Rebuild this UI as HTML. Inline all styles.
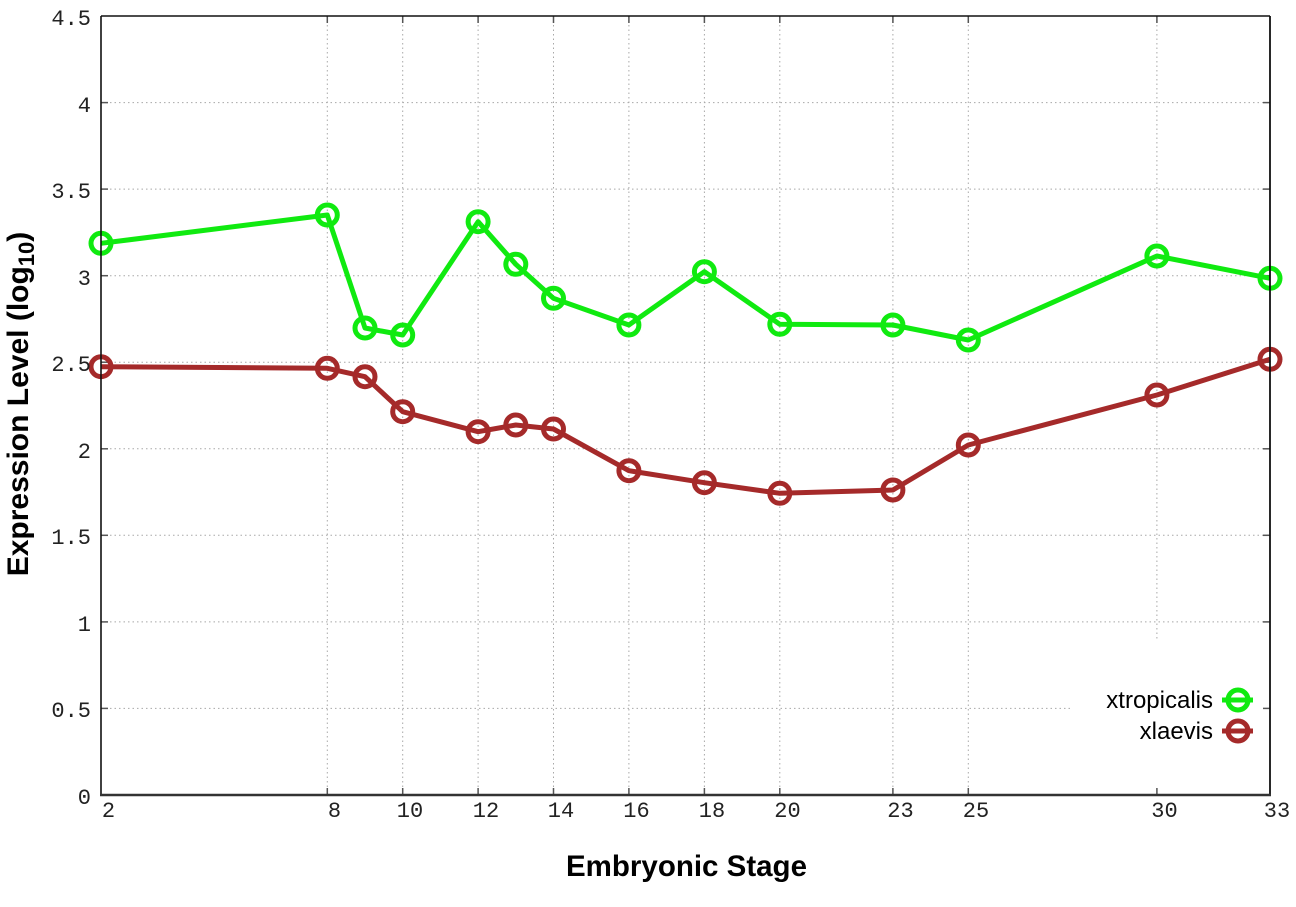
<!DOCTYPE html>
<html>
<head>
<meta charset="utf-8">
<style>
  html,body{margin:0;padding:0;background:#fff;}
  svg{display:block;}
  .tl{font-family:"Liberation Mono",monospace;font-size:22px;fill:#222;}
  .ttl{font-family:"Liberation Sans",sans-serif;font-size:29.5px;font-weight:bold;fill:#000;}
  .lg{font-family:"Liberation Sans",sans-serif;font-size:24px;fill:#000;}
</style>
</head>
<body>
<svg width="1296" height="907" viewBox="0 0 1296 907" xmlns="http://www.w3.org/2000/svg">
  <rect x="0" y="0" width="1296" height="907" fill="#fff"/>

  <!-- horizontal grid -->
  <g stroke="#a8a8a8" stroke-width="1" stroke-dasharray="1.5,3">
    <line x1="101" y1="708.4" x2="1270" y2="708.4"/>
    <line x1="101" y1="621.9" x2="1270" y2="621.9"/>
    <line x1="101" y1="535.3" x2="1270" y2="535.3"/>
    <line x1="101" y1="448.8" x2="1270" y2="448.8"/>
    <line x1="101" y1="362.2" x2="1270" y2="362.2"/>
    <line x1="101" y1="275.7" x2="1270" y2="275.7"/>
    <line x1="101" y1="189.1" x2="1270" y2="189.1"/>
    <line x1="101" y1="102.6" x2="1270" y2="102.6"/>
  </g>
  <!-- vertical grid -->
  <g stroke="#a8a8a8" stroke-width="1" stroke-dasharray="1.5,3">
    <line x1="327.3" y1="16" x2="327.3" y2="795"/>
    <line x1="402.7" y1="16" x2="402.7" y2="795"/>
    <line x1="478.1" y1="16" x2="478.1" y2="795"/>
    <line x1="553.5" y1="16" x2="553.5" y2="795"/>
    <line x1="628.9" y1="16" x2="628.9" y2="795"/>
    <line x1="704.4" y1="16" x2="704.4" y2="795"/>
    <line x1="779.8" y1="16" x2="779.8" y2="795"/>
    <line x1="892.9" y1="16" x2="892.9" y2="795"/>
    <line x1="968.3" y1="16" x2="968.3" y2="795"/>
    <line x1="1156.9" y1="16" x2="1156.9" y2="795"/>
  </g>

  <!-- legend background -->
  <rect x="1070" y="641" width="200" height="154" fill="#fff"/>

  <!-- ticks -->
  <g stroke="#555" stroke-width="1.5">
    <line x1="101" y1="708.4" x2="108" y2="708.4"/><line x1="1270" y1="708.4" x2="1263" y2="708.4"/>
    <line x1="101" y1="621.9" x2="108" y2="621.9"/><line x1="1270" y1="621.9" x2="1263" y2="621.9"/>
    <line x1="101" y1="535.3" x2="108" y2="535.3"/><line x1="1270" y1="535.3" x2="1263" y2="535.3"/>
    <line x1="101" y1="448.8" x2="108" y2="448.8"/><line x1="1270" y1="448.8" x2="1263" y2="448.8"/>
    <line x1="101" y1="362.2" x2="108" y2="362.2"/><line x1="1270" y1="362.2" x2="1263" y2="362.2"/>
    <line x1="101" y1="275.7" x2="108" y2="275.7"/><line x1="1270" y1="275.7" x2="1263" y2="275.7"/>
    <line x1="101" y1="189.1" x2="108" y2="189.1"/><line x1="1270" y1="189.1" x2="1263" y2="189.1"/>
    <line x1="101" y1="102.6" x2="108" y2="102.6"/><line x1="1270" y1="102.6" x2="1263" y2="102.6"/>
    <line x1="327.3" y1="795" x2="327.3" y2="788"/><line x1="327.3" y1="16" x2="327.3" y2="23"/>
    <line x1="402.7" y1="795" x2="402.7" y2="788"/><line x1="402.7" y1="16" x2="402.7" y2="23"/>
    <line x1="478.1" y1="795" x2="478.1" y2="788"/><line x1="478.1" y1="16" x2="478.1" y2="23"/>
    <line x1="553.5" y1="795" x2="553.5" y2="788"/><line x1="553.5" y1="16" x2="553.5" y2="23"/>
    <line x1="628.9" y1="795" x2="628.9" y2="788"/><line x1="628.9" y1="16" x2="628.9" y2="23"/>
    <line x1="704.4" y1="795" x2="704.4" y2="788"/><line x1="704.4" y1="16" x2="704.4" y2="23"/>
    <line x1="779.8" y1="795" x2="779.8" y2="788"/><line x1="779.8" y1="16" x2="779.8" y2="23"/>
    <line x1="892.9" y1="795" x2="892.9" y2="788"/><line x1="892.9" y1="16" x2="892.9" y2="23"/>
    <line x1="968.3" y1="795" x2="968.3" y2="788"/><line x1="968.3" y1="16" x2="968.3" y2="23"/>
    <line x1="1156.9" y1="795" x2="1156.9" y2="788"/><line x1="1156.9" y1="16" x2="1156.9" y2="23"/>
  </g>

  <!-- xtropicalis -->
  <g stroke="#10ea10" stroke-width="5" fill="none" stroke-linejoin="round">
    <polyline points="101,243.3 327.3,215 365,328 402.7,335 478.1,221.7 515.8,264.3 553.5,298.3 628.9,325 704.4,271.7 779.8,324.3 892.9,325 968.3,340 1156.9,256 1270,278.3"/>
    <circle cx="101" cy="243.3" r="10"/>
    <circle cx="327.3" cy="215" r="10"/>
    <circle cx="365" cy="328" r="10"/>
    <circle cx="402.7" cy="335" r="10"/>
    <circle cx="478.1" cy="221.7" r="10"/>
    <circle cx="515.8" cy="264.3" r="10"/>
    <circle cx="553.5" cy="298.3" r="10"/>
    <circle cx="628.9" cy="325" r="10"/>
    <circle cx="704.4" cy="271.7" r="10"/>
    <circle cx="779.8" cy="324.3" r="10"/>
    <circle cx="892.9" cy="325" r="10"/>
    <circle cx="968.3" cy="340" r="10"/>
    <circle cx="1156.9" cy="256" r="10"/>
    <circle cx="1270" cy="278.3" r="10"/>
  </g>

  <!-- xlaevis -->
  <g stroke="#a52a2a" stroke-width="5" fill="none" stroke-linejoin="round">
    <polyline points="101,366.7 327.3,368.3 365,376.7 402.7,411.7 478.1,431.7 515.8,425 553.5,429 628.9,470.7 704.4,482.7 779.8,493.3 892.9,490 968.3,445 1156.9,395 1270,359.3"/>
    <circle cx="101" cy="366.7" r="10"/>
    <circle cx="327.3" cy="368.3" r="10"/>
    <circle cx="365" cy="376.7" r="10"/>
    <circle cx="402.7" cy="411.7" r="10"/>
    <circle cx="478.1" cy="431.7" r="10"/>
    <circle cx="515.8" cy="425" r="10"/>
    <circle cx="553.5" cy="429" r="10"/>
    <circle cx="628.9" cy="470.7" r="10"/>
    <circle cx="704.4" cy="482.7" r="10"/>
    <circle cx="779.8" cy="493.3" r="10"/>
    <circle cx="892.9" cy="490" r="10"/>
    <circle cx="968.3" cy="445" r="10"/>
    <circle cx="1156.9" cy="395" r="10"/>
    <circle cx="1270" cy="359.3" r="10"/>
  </g>

  <!-- legend -->
  <text class="lg" x="1213" y="708" text-anchor="end">xtropicalis</text>
  <text class="lg" x="1213" y="739" text-anchor="end">xlaevis</text>
  <g stroke-width="5" fill="none">
    <line x1="1222" y1="700" x2="1253" y2="700" stroke="#10ea10"/>
    <circle cx="1238" cy="700" r="10" stroke="#10ea10"/>
    <line x1="1222" y1="731" x2="1253" y2="731" stroke="#a52a2a"/>
    <circle cx="1238" cy="731" r="10" stroke="#a52a2a"/>
  </g>

  <!-- border -->
  <g stroke="#111" fill="none">
    <line x1="101" y1="16" x2="1270" y2="16" stroke-width="1.6"/>
    <line x1="1270" y1="16" x2="1270" y2="795" stroke-width="1.8"/>
    <line x1="101" y1="16" x2="101" y2="795" stroke-width="1.6"/>
    <line x1="100" y1="795" x2="1271" y2="795" stroke="#333" stroke-width="2.4"/>
  </g>

  <!-- y tick labels -->
  <g class="tl" text-anchor="end">
    <text x="91" y="804">0</text>
    <text x="91" y="717">0.5</text>
    <text x="91" y="631">1</text>
    <text x="91" y="544">1.5</text>
    <text x="91" y="458">2</text>
    <text x="91" y="371">2.5</text>
    <text x="91" y="285">3</text>
    <text x="91" y="198">3.5</text>
    <text x="91" y="112">4</text>
    <text x="91" y="25">4.5</text>
  </g>

  <!-- x tick labels -->
  <g class="tl" text-anchor="middle">
    <text x="108.5" y="817">2</text>
    <text x="334.5" y="817">8</text>
    <text x="410" y="817">10</text>
    <text x="486" y="817">12</text>
    <text x="561" y="817">14</text>
    <text x="636.5" y="817">16</text>
    <text x="712" y="817">18</text>
    <text x="787.5" y="817">20</text>
    <text x="900.5" y="817">23</text>
    <text x="976" y="817">25</text>
    <text x="1164.5" y="817">30</text>
    <text x="1277" y="817">33</text>
  </g>

  <!-- axis titles -->
  <text class="ttl" x="686.5" y="876" text-anchor="middle">Embryonic Stage</text>
  <text class="ttl" style="font-size:30px" transform="translate(28,404) rotate(-90)" text-anchor="middle">Expression Level (log<tspan font-size="22" dy="6">10</tspan><tspan dy="-6">)</tspan></text>
</svg>
</body>
</html>
